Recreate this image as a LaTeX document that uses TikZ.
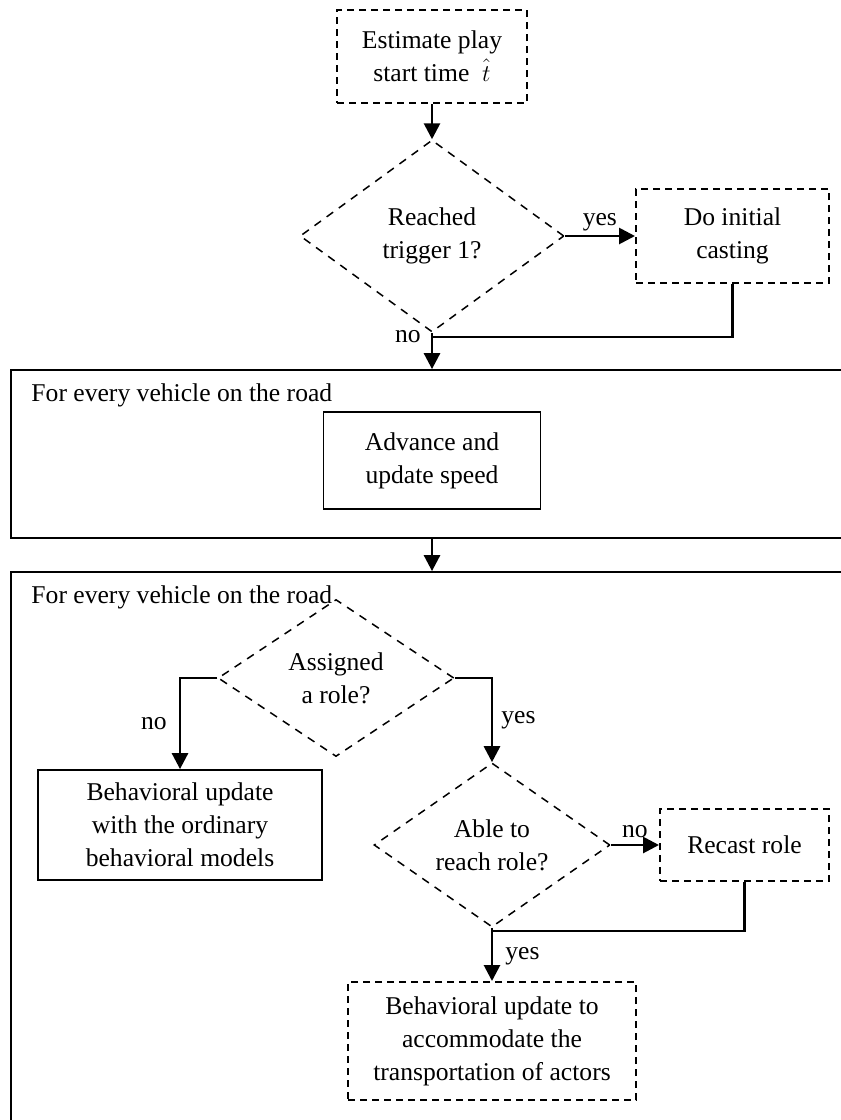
\documentclass[tikz,border=0pt]{standalone}
\usepackage{fontspec}
\setmainfont{Liberation Serif}
\usetikzlibrary{shapes.geometric,arrows.meta,calc}
\begin{document}
\begin{tikzpicture}[x=0.5pt,y=-0.5pt,
 every node/.style={font=\fontsize{12.8}{16.5}\selectfont},
 dbox/.style={draw, rectangle, dash pattern=on 3.5pt off 2.5pt, line width=1pt, align=center, inner sep=0pt},
 sbox/.style={draw, rectangle, line width=0.9pt, align=center, inner sep=0pt},
 dec/.style={draw, diamond, dash pattern=on 4pt off 3.5pt, line width=0.75pt, align=center, inner sep=0pt},
 cont/.style={draw, rectangle, line width=0.9pt, inner sep=0pt},
 conn/.style={line width=1.4pt},
 arr/.style={conn, -{Triangle[length=8pt,width=8pt]}},
 lbl/.style={inner sep=0pt, anchor=base west},
 tag/.style={inner sep=4pt}
]
\useasboundingbox (0,0) rectangle (841,1120);
\clip (0,0) rectangle (841,1120);

\node[dbox, minimum width=95pt, minimum height=46.5pt] (est) at (432,56.5) {Estimate play\\start time\ \ $\hat{\vphantom{b}t}$};
\node[dec, minimum width=132pt, minimum height=96pt] (d1) at (432,236) {Reached\\trigger 1?};
\node[dbox, minimum width=96.5pt, minimum height=47pt] (cast) at (732.5,236) {Do initial\\casting};
\coordinate (j1) at (432,337);

\node[cont, minimum width=444.5pt, minimum height=84pt] (c1) at (455.5,454) {};
\node[lbl] (t1) at ($(c1.north west)+(21,32)$) {For every vehicle on the road};
\node[sbox, minimum width=108.5pt, minimum height=48.5pt] (adv) at (432,460.5) {Advance and\\update speed};

\node[cont, minimum width=444.5pt, minimum height=314pt] (c2) at (455.5,886) {};
\node[lbl] (t2) at ($(c2.north west)+(21,32)$) {For every vehicle on the road};
\node[dec, minimum width=118pt, minimum height=78.5pt] (d2) at (336,678) {Assigned\\a role?};
\node[sbox, minimum width=142pt, minimum height=55pt] (beh1) at (180,825) {Behavioral update\\with the ordinary\\behavioral models};
\node[dec, minimum width=118pt, minimum height=78pt] (d3) at (492,845) {Able to\\reach role?};
\node[dbox, minimum width=84.5pt, minimum height=36pt] (rec) at (744.5,845) {Recast role};
\coordinate (j2) at (492,931);
\node[dbox, minimum width=144pt, minimum height=59pt] (beh2) at (492,1041) {Behavioral update to\\accommodate the\\transportation of actors};

\draw[arr] (est.south) -- (d1.north);
\draw[arr] (d1.east) -- node[above, inner sep=2pt]{yes} (cast.west);
\draw[conn] (cast.south) |- (j1);
\draw[arr] (d1.south) -- (j1) node[left, inner sep=5pt]{no} -- (j1 |- c1.north);
\draw[arr] (adv |- c1.south) -- (adv |- c2.north);
\draw[arr] (d2.west) -| node[pos=0.75, left, inner sep=6pt]{no} (beh1.north);
\draw[arr] (d2.east) -| node[pos=0.75, right, tag]{yes} (d3.north);
\draw[arr] (d3.east) -- node[above, inner sep=3pt]{no} (rec.west);
\draw[conn] (rec.south) |- (j2);
\draw[arr] (d3.south) -- (j2) -- node[right, inner sep=6pt]{yes} (beh2.north);
\end{tikzpicture}
\end{document}
